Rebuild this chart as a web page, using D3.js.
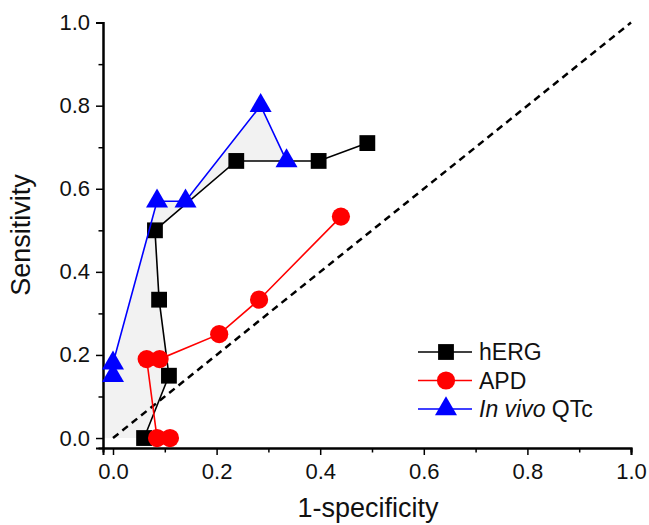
<!DOCTYPE html>
<html>
<head>
<meta charset="utf-8">
<script src="https://cdn.jsdelivr.net/npm/d3@7"></script>
<style>
  body { margin: 0; background: #fff; }
  text { font-family: "Liberation Sans", Arial, sans-serif; }
</style>
</head>
<body>
<script>
// data
const hergX = [0.06, 0.108, 0.089, 0.081, 0.238, 0.397, 0.491];
const hergY = [0.0, 0.15, 0.333, 0.5, 0.667, 0.667, 0.71];
const apdX = [0.11, 0.085, 0.065, 0.09, 0.205, 0.282, 0.44];
const apdY = [0.0, 0.0, 0.19, 0.19, 0.25, 0.333, 0.533];
const qtcX = [0.0, 0.0, 0.085, 0.14, 0.285, 0.335];
const qtcY = [0.15, 0.18, 0.57, 0.57, 0.80, 0.667];
const seriesNames = ["hERG", "APD", "In vivo QTc"];
const majorTicks = [0, 0.2, 0.4, 0.6, 0.8, 1.0];
const minorTicks = [0.1, 0.3, 0.5, 0.7, 0.9];

const W = 649, H = 525;
const svg = d3.select("body").append("svg").attr("width", W).attr("height", H);

const xMin = -0.0193, yMin = -0.024;
const x = d3.scaleLinear().domain([xMin, 1]).range([103, 631]);
const y = d3.scaleLinear().domain([yMin, 1]).range([448, 22.6]);

const zip = (xs, ys) => xs.map((v, i) => [v, ys[i]]);
const herg = zip(hergX, hergY);
const apd = zip(apdX, apdY);
const qtc = zip(qtcX, qtcY);

const line = d3.line().x(d => x(d[0])).y(d => y(d[1]));

// shaded area between the QTc curve and the hERG curve
const shade = [[xMin, 0], [xMin, qtcY[0]]].concat(qtc, herg.slice(0, 5).reverse());
svg.append("path")
    .attr("d", line(shade) + "Z")
    .attr("fill", "#f2f2f2")
    .attr("stroke", "none");

// chance line
svg.append("path")
    .attr("d", line([[0, 0], [1, 1]]))
    .attr("stroke", "#000")
    .attr("stroke-width", 2.5)
    .attr("stroke-dasharray", "7,5")
    .attr("fill", "none");

// axes
svg.append("g").attr("transform", "translate(0,448)")
    .call(d3.axisBottom(x).tickValues(majorTicks).tickFormat(d3.format(".1f")).tickSizeOuter(0).tickSize(7).tickPadding(8));
svg.append("g").attr("transform", "translate(0,448)")
    .call(d3.axisBottom(x).tickValues(minorTicks).tickFormat("").tickSizeOuter(0).tickSize(4.5));
svg.append("g").attr("transform", "translate(103,0)")
    .call(d3.axisLeft(y).tickValues(majorTicks).tickFormat(d3.format(".1f")).tickSizeOuter(0).tickSize(7).tickPadding(6));
svg.append("g").attr("transform", "translate(103,0)")
    .call(d3.axisLeft(y).tickValues(minorTicks).tickFormat("").tickSizeOuter(0).tickSize(4.5));

svg.selectAll(".domain").attr("stroke-width", 2);
svg.selectAll(".tick line").attr("stroke-width", 1.5);
svg.selectAll(".tick text").attr("font-size", 22).attr("font-family", "Liberation Sans, Arial, sans-serif").attr("fill", "#111");

svg.append("text")
    .attr("x", 368).attr("y", 517)
    .attr("text-anchor", "middle")
    .attr("font-size", 27)
    .attr("fill", "#111")
    .text("1-specificity");
svg.append("text")
    .attr("transform", "translate(30,235) rotate(-90)")
    .attr("text-anchor", "middle")
    .attr("font-size", 27)
    .attr("fill", "#111")
    .text("Sensitivity");

// series
const colors = ["#000000", "#ff0000", "#0000ff"];
const symbols = [d3.symbolSquare, d3.symbolCircle, d3.symbolTriangle];
const sizes = [250, 260, 210];
const all = [herg, apd, qtc];

all.forEach((pts, i) => {
    svg.append("path")
        .attr("d", line(pts))
        .attr("fill", "none")
        .attr("stroke", colors[i])
        .attr("stroke-width", 1.6);
    svg.append("g").selectAll("path")
        .data(pts)
        .enter()
        .append("path")
        .attr("transform", d => "translate(" + x(d[0]) + "," + y(d[1]) + ")")
        .attr("d", d3.symbol().type(symbols[i]).size(sizes[i]))
        .attr("fill", colors[i]);
});

// legend
const legend = svg.append("g").attr("id", "legend");
seriesNames.forEach((name, i) => {
    const ly = 352 + i * 28.5;
    legend.append("line")
        .attr("x1", 418).attr("x2", 472).attr("y1", ly).attr("y2", ly)
        .attr("stroke", colors[i]).attr("stroke-width", 1.6);
    legend.append("path")
        .attr("transform", "translate(446," + ly + ")")
        .attr("d", d3.symbol().type(symbols[i]).size(sizes[i]))
        .attr("fill", colors[i]);
    const t = legend.append("text")
        .attr("x", 479).attr("y", ly + 8)
        .attr("font-size", 23)
        .attr("fill", "#111");
    if (i === 2) {
        t.append("tspan").attr("font-style", "italic").text("In vivo");
        t.append("tspan").text(" QTc");
    } else {
        t.text(name);
    }
});
</script>
</body>
</html>
